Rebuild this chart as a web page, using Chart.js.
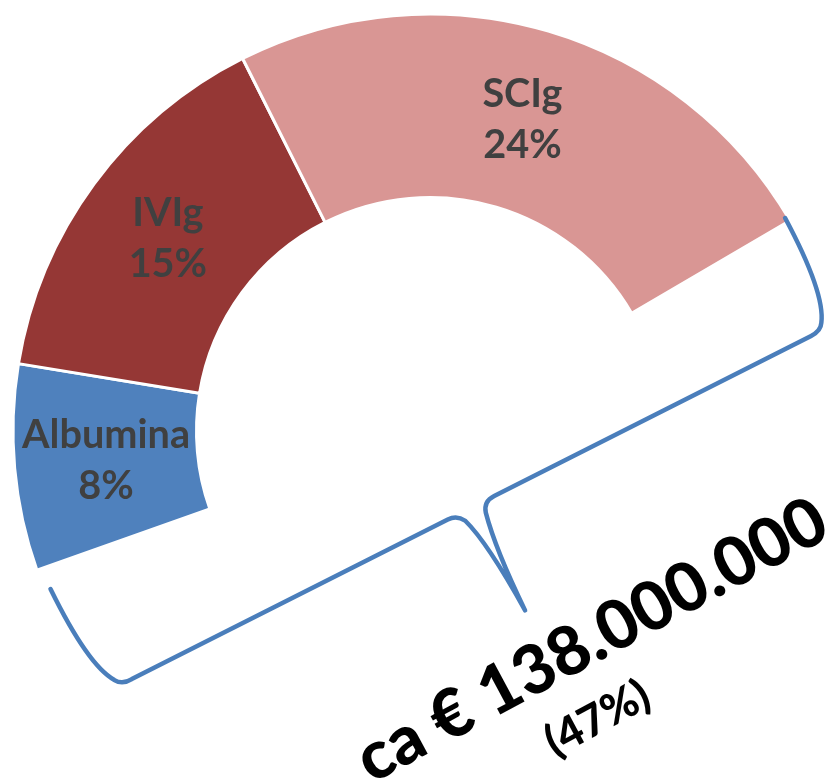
<!DOCTYPE html>
<html>
<head>
<meta charset="utf-8">
<script src="https://cdn.jsdelivr.net/npm/chart.js@4.4.1/dist/chart.umd.min.js"></script>
<style>
  html, body { margin: 0; padding: 0; background: #fff; overflow: hidden; }
  #wrap { position: relative; width: 828px; height: 781px; overflow: hidden; }
  #c { position: absolute; left: 0; top: 0; }
</style>
</head>
<body>
<div id="wrap"><canvas id="c" width="860" height="862"></canvas></div>
<script>
// dati (quota % della spesa)
const categories = ['Albumina', 'IVIg', 'SCIg'];
const shares = [8, 15, 24];
const colors = ['#4f81bd', '#953735', '#d99694'];
const totalLabel = 'ca € 138.000.000';

const shown = shares.reduce((a, b) => a + b, 0); // 47
const rest = 100 - shown; // parte non disegnata

const FONT = 'Lato, "Open Sans", sans-serif';

// dimensione del font in modo che il testo occupi "target" px
function fitFont(ctx, text, target, weight) {
  ctx.font = weight + ' 100px ' + FONT;
  const w = ctx.measureText(text).width;
  return 100 * target / w;
}

const sliceLabels = {
  id: 'sliceLabels',
  afterDatasetsDraw(chart) {
    const ctx = chart.ctx;
    const meta = chart.getDatasetMeta(0);
    ctx.save();
    const size = fitFont(ctx, 'Albumina', 168, 'bold');
    ctx.font = 'bold ' + size + 'px ' + FONT;
    ctx.fillStyle = '#404040';
    ctx.textAlign = 'center';
    ctx.textBaseline = 'alphabetic';
    categories.forEach((name, i) => {
      const p = meta.data[i].tooltipPosition();
      ctx.fillText(name, p.x, p.y - 12);
      ctx.fillText(shares[i] + '%', p.x, p.y + 39);
    });
    ctx.restore();
  }
};

// parentesi graffa + totale
const braceNote = {
  id: 'braceNote',
  afterDraw(chart) {
    const ctx = chart.ctx;
    const arc = chart.getDatasetMeta(0).data[0];
    const cx = arc.x, cy = arc.y;

    ctx.save();
    ctx.translate(cx, cy);
    ctx.rotate(-26.8 * Math.PI / 180);
    ctx.strokeStyle = '#4a7ebb';
    ctx.lineWidth = 4.5;
    ctx.lineJoin = 'round';
    ctx.lineCap = 'round';
    ctx.beginPath();
    ctx.moveTo(-410, -30);
    ctx.quadraticCurveTo(-411, 55, -394, 80);
    ctx.quadraticCurveTo(-389, 88, -378, 87);
    ctx.lineTo(-24, 87);
    ctx.quadraticCurveTo(-14, 87, -9, 96);
    ctx.quadraticCurveTo(1, 125, 4, 203);
    ctx.quadraticCurveTo(5, 135, 13, 98);
    ctx.quadraticCurveTo(16, 87, 28, 87);
    ctx.lineTo(383, 87);
    ctx.quadraticCurveTo(394, 87, 398, 80);
    ctx.quadraticCurveTo(415, 55, 413, -30);
    ctx.stroke();
    ctx.restore();

    ctx.save();
    ctx.translate(cx, cy);
    ctx.rotate(-28.3 * Math.PI / 180);
    ctx.fillStyle = '#000';
    ctx.textAlign = 'center';
    ctx.textBaseline = 'alphabetic';
    let size = fitFont(ctx, totalLabel, 524, '900');
    ctx.font = '900 ' + size + 'px ' + FONT;
    ctx.fillText(totalLabel, 43, 283);
    const pct = '(' + shown + '%)';
    size = fitFont(ctx, pct, 112, '900');
    ctx.font = '900 ' + size + 'px ' + FONT;
    ctx.fillText(pct, 11, 347);
    ctx.restore();
  }
};

new Chart(document.getElementById('c'), {
  type: 'doughnut',
  data: {
    labels: [...categories, ''],
    datasets: [{
      data: [...shares, rest],
      backgroundColor: [...colors, 'rgba(0,0,0,0)'],
      borderColor: ['#ffffff', '#ffffff', '#ffffff', 'rgba(0,0,0,0)'],
      borderWidth: [3, 3, 3, 0],
      hoverOffset: 0
    }]
  },
  options: {
    responsive: false,
    animation: false,
    radius: 417,
    cutout: '56%',
    rotation: 250.5,
    layout: { padding: 0 },
    events: [],
    plugins: {
      legend: { display: false },
      tooltip: { enabled: false }
    }
  },
  plugins: [sliceLabels, braceNote]
});
</script>
</body>
</html>
